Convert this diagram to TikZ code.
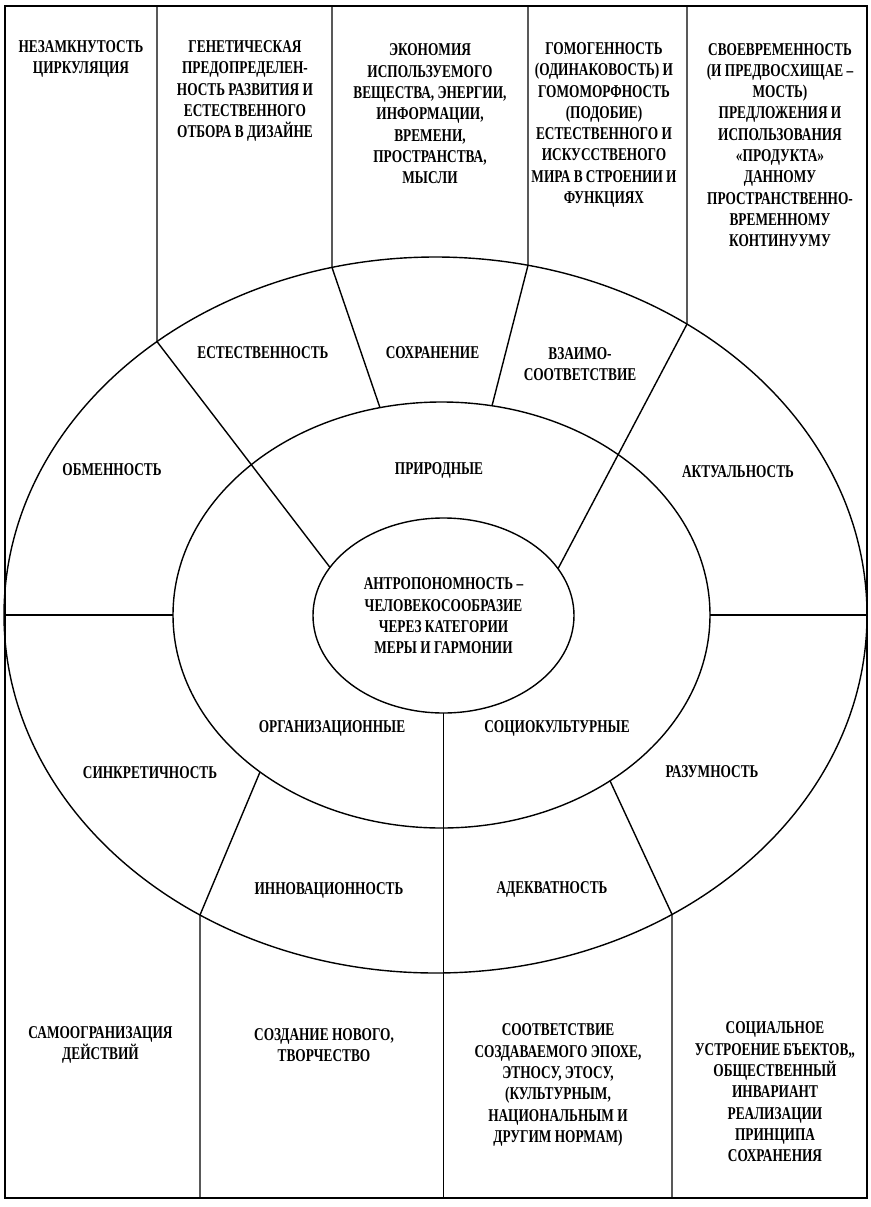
\documentclass[tikz,border=0pt]{standalone}
\usepackage{fontspec}
\newfontfamily\lblfont{Liberation Serif}[FakeStretch=0.74]
\usetikzlibrary{shapes.geometric}
\begin{document}
\begin{tikzpicture}[x=1pt,y=-1pt,line width=1.4pt,
  lbl/.style={align=center,inner sep=0pt,font=\lblfont\bfseries\fontsize{18}{21.3}\selectfont},
  ring/.style={ellipse,draw,inner sep=0pt,outer sep=0pt}]
\useasboundingbox (0,0) rectangle (870,1207);
\fill[white] (0,0) rectangle (870,1207);
\draw (5,6) rectangle (867,1198);
% ellipses
\node[ring,minimum width=863pt,minimum height=716pt] (outer) at (435.5,615) {};
\node[ring,minimum width=537pt,minimum height=426pt] (mid) at (441.5,615) {};
\node[ring,minimum width=261pt,minimum height=195pt] (inner) at (443.5,615.5) {};
% junction coordinates
\coordinate (t1) at (157,6);  \coordinate (oC) at (157,341.6); \coordinate (iC) at (330,567.4);
\coordinate (t2) at (332,6);  \coordinate (oD) at (332,267.5); \coordinate (mD) at (380,407.7);
\coordinate (t3) at (528,6);  \coordinate (oE) at (528,265.3); \coordinate (mE) at (492,405.8);
\coordinate (t4) at (687,6);  \coordinate (oF) at (687,324.1); \coordinate (iF) at (558,568.7);
\coordinate (mG) at (260,772); \coordinate (oG) at (200,915); \coordinate (b1) at (200,1198);
\coordinate (b2) at (443.5,1198);
\coordinate (mI) at (610,780.8); \coordinate (oI) at (672,914.4); \coordinate (b3) at (672,1198);
% dividers
\draw (t1) -- (oC) -- (iC);
\draw (t2) -- (oD) -- (mD);
\draw (t3) -- (oE) -- (mE);
\draw (t4) -- (oF) -- (iF);
\draw (outer.west) -- (mid.west);
\draw (mid.east) -- (outer.east);
\draw (mG) -- (oG) -- (b1);
\draw (inner.south) -- (b2);
\draw (mI) -- (oI) -- (b3);
% centre
\node[lbl] (core) at (443.5,616) {АНТРОПОНОМНОСТЬ –\\ЧЕЛОВЕКОСООБРАЗИЕ\\ЧЕРЕЗ КАТЕГОРИИ\\МЕРЫ И ГАРМОНИИ};
% middle ring
\node[lbl] (prir) at (439,470) {ПРИРОДНЫЕ};
\node[lbl] (org) at (332,728) {ОРГАНИЗАЦИОННЫЕ};
\node[lbl] (soc) at (557,728) {СОЦИОКУЛЬТУРНЫЕ};
% outer ring
\node[lbl] (est) at (263,353) {ЕСТЕСТВЕННОСТЬ};
\node[lbl] (sohr) at (432.5,353) {СОХРАНЕНИЕ};
\node[lbl] (vzai) at (580,364) {ВЗАИМО-\\СООТВЕТСТВИЕ};
\node[lbl] (obm) at (112,470) {ОБМЕННОСТЬ};
\node[lbl] (akt) at (738,472) {АКТУАЛЬНОСТЬ};
\node[lbl] (sink) at (150,773) {СИНКРЕТИЧНОСТЬ};
\node[lbl] (razu) at (712,772) {РАЗУМНОСТЬ};
\node[lbl] (inno) at (329,890) {ИННОВАЦИОННОСТЬ};
\node[lbl] (adek) at (552,889) {АДЕКВАТНОСТЬ};
% top columns
\node[lbl] (c1) at (81,59) {НЕЗАМКНУТОСТЬ\\ЦИРКУЛЯЦИЯ};
\node[lbl] (c2) at (245,91) {ГЕНЕТИЧЕСКАЯ\\ПРЕДОПРЕДЕЛЕН-\\НОСТЬ РАЗВИТИЯ И\\ЕСТЕСТВЕННОГО\\ОТБОРА В ДИЗАЙНЕ};
\node[lbl] (c3) at (430,114) {ЭКОНОМИЯ\\ИСПОЛЬЗУЕМОГО\\ВЕЩЕСТВА, ЭНЕРГИИ,\\ИНФОРМАЦИИ,\\ВРЕМЕНИ,\\ПРОСТРАНСТВА,\\МЫСЛИ};
\node[lbl] (c4) at (604,125) {ГОМОГЕННОСТЬ\\(ОДИНАКОВОСТЬ) И\\ГОМОМОРФНОСТЬ\\(ПОДОБИЕ)\\ЕСТЕСТВЕННОГО И\\ИСКУССТВЕНОГО\\МИРА В СТРОЕНИИ И\\ФУНКЦИЯХ};
\node[lbl] (c5) at (780,145) {СВОЕВРЕМЕННОСТЬ\\(И ПРЕДВОСХИЩАЕ –\\МОСТЬ)\\ПРЕДЛОЖЕНИЯ И\\ИСПОЛЬЗОВАНИЯ\\«ПРОДУКТА»\\ДАННОМУ\\ПРОСТРАНСТВЕННО-\\ВРЕМЕННОМУ\\КОНТИНУУМУ};
% bottom columns
\node[lbl] (d1) at (100.5,1045) {САМООГРАНИЗАЦИЯ\\ДЕЙСТВИЙ};
\node[lbl] (d2) at (324,1045) {СОЗДАНИЕ НОВОГО,\\ТВОРЧЕСТВО};
\node[lbl] (d3) at (558,1085) {СООТВЕТСТВИЕ\\СОЗДАВАЕМОГО ЭПОХЕ,\\ЭТНОСУ, ЭТОСУ,\\(КУЛЬТУРНЫМ,\\НАЦИОНАЛЬНЫМ И\\ДРУГИМ НОРМАМ)};
\node[lbl] (d4) at (775,1092) {СОЦИАЛЬНОЕ\\УСТРОЕНИЕ БЪЕКТОВ„\\ОБЩЕСТВЕННЫЙ\\ИНВАРИАНТ\\РЕАЛИЗАЦИИ\\ПРИНЦИПА\\СОХРАНЕНИЯ};
\end{tikzpicture}
\end{document}
